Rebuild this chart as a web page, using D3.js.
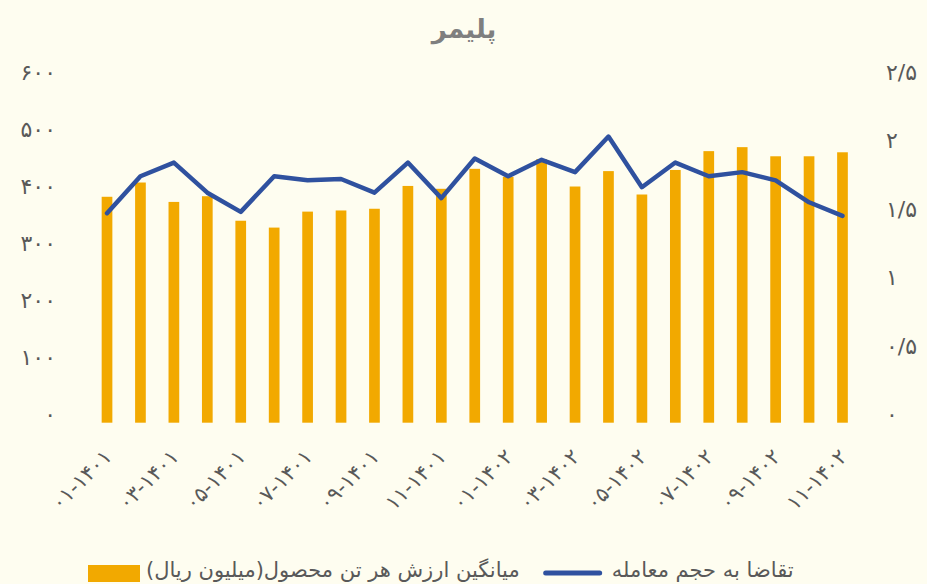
<!DOCTYPE html>
<html>
<head>
<meta charset="utf-8">
<script src="https://cdn.jsdelivr.net/npm/d3@7/dist/d3.min.js"></script>
<style>
  html, body { margin: 0; padding: 0; background: #FEFDF0; }
  svg { display: block; }
  text { font-family: "DejaVu Sans", sans-serif; }
</style>
</head>
<body>
<svg id="chart" width="927" height="584"></svg>
<script>
const title = "پلیمر";
const categories = [
  "۰۱-۱۴۰۱","۰۲-۱۴۰۱","۰۳-۱۴۰۱","۰۴-۱۴۰۱","۰۵-۱۴۰۱","۰۶-۱۴۰۱","۰۷-۱۴۰۱","۰۸-۱۴۰۱",
  "۰۹-۱۴۰۱","۱۰-۱۴۰۱","۱۱-۱۴۰۱","۱۲-۱۴۰۱","۰۱-۱۴۰۲","۰۲-۱۴۰۲","۰۳-۱۴۰۲","۰۴-۱۴۰۲",
  "۰۵-۱۴۰۲","۰۶-۱۴۰۲","۰۷-۱۴۰۲","۰۸-۱۴۰۲","۰۹-۱۴۰۲","۱۰-۱۴۰۲","۱۱-۱۴۰۲"
];
const priceValues = [396, 421, 387, 397, 354, 342, 370, 372, 375, 415, 410, 445,
                     431, 462, 414, 441, 400, 443, 476, 483, 467, 467, 474];
const demandRatio = [1.53, 1.80, 1.90, 1.68, 1.54, 1.80, 1.77, 1.78, 1.68, 1.90, 1.64, 1.93,
                     1.80, 1.92, 1.83, 2.09, 1.72, 1.90, 1.80, 1.83, 1.77, 1.61, 1.51];
const leftTicks = [0, 100, 200, 300, 400, 500, 600];
const rightTicks = [0, 0.5, 1, 1.5, 2, 2.5];
const barLabel = "میانگین ارزش هر تن محصول(میلیون ریال)";
const lineLabel = "تقاضا به حجم معامله";

const BAR_COLOR = "#F2A900";
const LINE_COLOR = "#2F519F";
const TEXT_COLOR = "#595959";

const faDigits = "۰۱۲۳۴۵۶۷۸۹";
const toFa = v => String(v).replace(/\./g, "/").replace(/[0-9]/g, d => faDigits[+d]);

const svg = d3.select("#chart");

const x = d3.scaleBand().domain(categories).range([90.3, 859.2])
  .paddingInner(0.68).paddingOuter(0.34);
const yL = d3.scaleLinear().domain([0, 600]).range([422.7, 80.4]);
const yR = d3.scaleLinear().domain([0, 2.5]).range([422.7, 80.4]);

// title
svg.append("text")
  .attr("x", 464).attr("y", 38)
  .attr("text-anchor", "middle")
  .attr("font-size", 26).attr("font-weight", "bold")
  .attr("fill", "#7F7F7F")
  .text(title);

// left axis
const axL = svg.append("g").attr("transform", "translate(56,0)")
  .call(d3.axisLeft(yL).tickValues(leftTicks).tickSize(0).tickPadding(0).tickFormat(toFa));
axL.select(".domain").remove();
axL.selectAll("text").attr("font-size", 22).attr("fill", TEXT_COLOR)
  .attr("font-family", "DejaVu Sans").attr("letter-spacing", 1).attr("dy", "-0.05em");

// right axis
const axR = svg.append("g").attr("transform", "translate(886,0)")
  .call(d3.axisRight(yR).tickValues(rightTicks).tickSize(0).tickPadding(0).tickFormat(toFa));
axR.select(".domain").remove();
axR.selectAll("text").attr("font-size", 22).attr("fill", TEXT_COLOR)
  .attr("font-family", "DejaVu Sans").attr("letter-spacing", 1).attr("dy", "-0.05em");

// bars
svg.append("g").selectAll("rect").data(priceValues).join("rect")
  .attr("x", (d, i) => x(categories[i]))
  .attr("width", x.bandwidth())
  .attr("y", d => yL(d))
  .attr("height", d => yL(0) - yL(d))
  .attr("fill", BAR_COLOR);

// line
const line = d3.line()
  .x((d, i) => x(categories[i]) + x.bandwidth() / 2)
  .y(d => yR(d));
svg.append("path").datum(demandRatio)
  .attr("d", line)
  .attr("fill", "none")
  .attr("stroke", LINE_COLOR)
  .attr("stroke-width", 4.5)
  .attr("stroke-linejoin", "round")
  .attr("stroke-linecap", "round");

// x labels (every other category)
const xAxis = d3.axisBottom(x)
  .tickValues(categories.filter((d, i) => i % 2 === 0))
  .tickSize(0).tickPadding(0);
const axX = svg.append("g").call(xAxis);
axX.select(".domain").remove();
axX.selectAll(".tick text")
  .attr("font-size", 21).attr("fill", TEXT_COLOR)
  .attr("font-family", "DejaVu Sans")
  .attr("letter-spacing", 1)
  .attr("text-anchor", "end")
  .attr("direction", "ltr")
  .attr("y", 0).attr("dy", 0)
  .attr("transform", "translate(6,458) rotate(-45)");

// legend
const lg = svg.append("g");
lg.append("rect").attr("x", 88).attr("y", 565).attr("width", 52).attr("height", 17).attr("fill", BAR_COLOR);
const t1 = lg.append("text")
  .attr("y", 577).attr("font-size", 21).attr("fill", TEXT_COLOR)
  .attr("letter-spacing", 0.5)
  .attr("text-anchor", "middle").text(barLabel);
const w1 = t1.node().getComputedTextLength();
t1.attr("x", 146 + w1 / 2);
const lx = 146 + w1 + 26;
lg.append("line").attr("x1", lx).attr("x2", lx + 54).attr("y1", 573).attr("y2", 573)
  .attr("stroke", LINE_COLOR).attr("stroke-width", 5).attr("stroke-linecap", "round");
const t2 = lg.append("text")
  .attr("y", 577).attr("font-size", 21).attr("fill", TEXT_COLOR)
  .attr("letter-spacing", 0.5)
  .attr("text-anchor", "middle").text(lineLabel);
const w2 = t2.node().getComputedTextLength();
t2.attr("x", lx + 66 + w2 / 2);
</script>
</body>
</html>
